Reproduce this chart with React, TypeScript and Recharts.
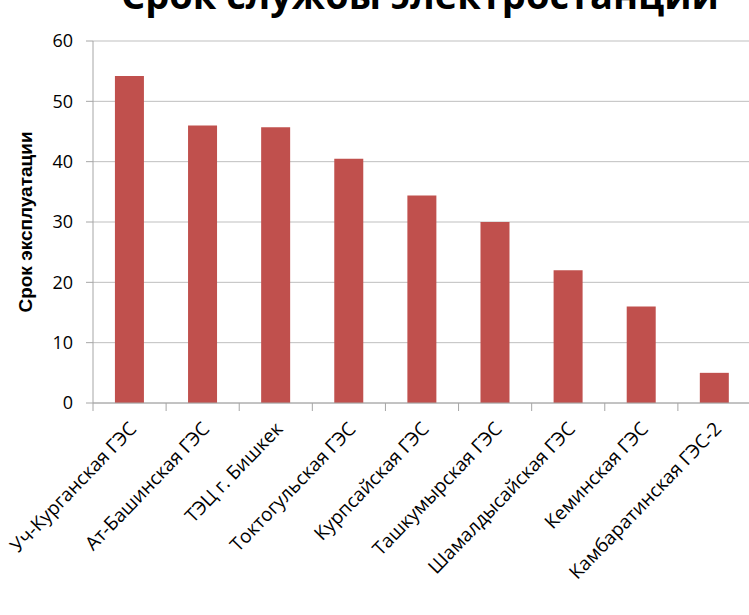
import React from "react";
import { BarChart, Bar, XAxis, YAxis, CartesianGrid } from "recharts";

const stations = [
  "Уч-Курганская ГЭС",
  "Ат-Башинская ГЭС",
  "ТЭЦ г. Бишкек",
  "Токтогульская ГЭС",
  "Курпсайская ГЭС",
  "Ташкумырская ГЭС",
  "Шамалдысайская ГЭС",
  "Кеминская ГЭС",
  "Камбаратинская ГЭС-2",
];

const years = [54.2, 46, 45.7, 40.5, 34.4, 30, 22, 16, 5];

const yTicks = [0, 10, 20, 30, 40, 50, 60];

const data = stations.map((name, i) => ({ name, years: years[i] }));

const FONT = "'Open Sans', 'DejaVu Sans', sans-serif";

// label is rotated ~45deg, a tick line sits on the left edge of each category
function StationTick(props: any) {
  const { x, y, payload } = props;
  const left = x - (payload.offset || 0);
  const tx = x + 8;
  const ty = y + 27;
  return (
    <g>
      <line x1={left} y1={y} x2={left} y2={y + 8} stroke="#A6A6A6" strokeWidth={1} />
      <text
        x={tx}
        y={ty}
        textAnchor="end"
        fontSize={19}
        fontFamily={FONT}
        fill="#000"
        transform={`rotate(-46, ${tx}, ${ty})`}
      >
        {payload.value}
      </text>
    </g>
  );
}

export default function App() {
  return (
    <div
      style={{
        position: "absolute",
        left: 0,
        top: 0,
        width: 749,
        height: 615,
        overflow: "hidden",
        background: "#fff",
      }}
    >
      <svg
        width={749}
        height={40}
        style={{ position: "absolute", left: 0, top: 0 }}
      >
        <text
          x={420}
          y={9}
          textAnchor="middle"
          fontSize={38}
          fontWeight="bold"
          fontFamily={FONT}
          fill="#000"
        >
          Срок службы электростанций
        </text>
      </svg>
      <BarChart
        width={752}
        height={615}
        data={data}
        margin={{ top: 41, right: 1, left: 0, bottom: 0 }}
        barCategoryGap="30%"
      >
        <CartesianGrid vertical={false} stroke="#BFBFBF" />
        <XAxis
          dataKey="name"
          interval={0}
          height={212}
          tickLine={false}
          tickSize={0}
          tickMargin={0}
          axisLine={{ stroke: "#A6A6A6" }}
          tick={<StationTick />}
        />
        <YAxis
          width={93}
          domain={[0, 60]}
          ticks={yTicks}
          tickSize={7}
          tickMargin={13}
          axisLine={{ stroke: "#A6A6A6" }}
          tickLine={{ stroke: "#A6A6A6" }}
          tick={{ fontSize: 18, fontFamily: FONT, fill: "#000" }}
          label={{
            value: "Срок эксплуатации",
            angle: -90,
            position: "insideLeft",
            offset: 0,
            dx: 25,
            style: {
              fontSize: 19,
              fontWeight: "bold",
              fontFamily: "'Liberation Sans', Arial, sans-serif",
              fill: "#000",
              textAnchor: "middle",
            },
          }}
        />
        <Bar dataKey="years" fill="#C0504D" isAnimationActive={false} />
      </BarChart>
    </div>
  );
}
